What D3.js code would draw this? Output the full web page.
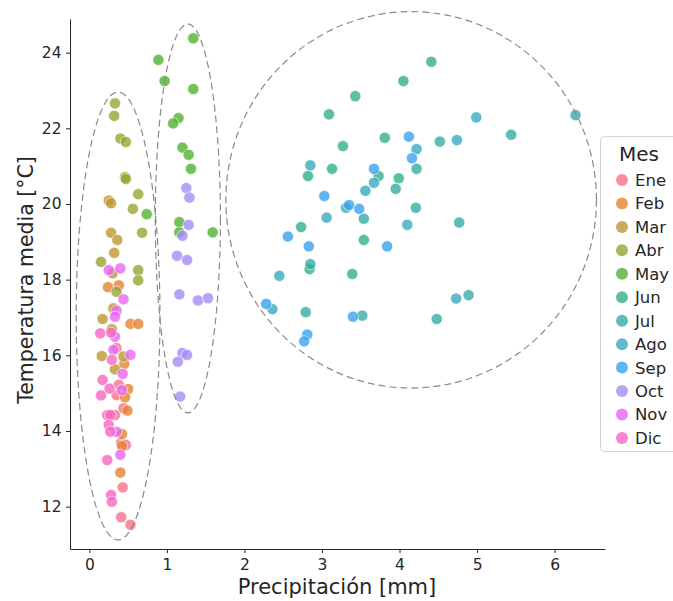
<!DOCTYPE html>
<html>
<head>
<meta charset="utf-8">
<script src="https://cdn.jsdelivr.net/npm/d3@7"></script>
<style>
  body { margin: 0; background: #fff; }
  svg text { font-family: "DejaVu Sans", sans-serif; fill: #262626; }
</style>
</head>
<body>
<svg id="plotSVG" width="673" height="601"></svg>
<script>
// [precipitación mm, temperatura media °C] por mes
let ene = [[0.35,16.19],[0.38,15.22],[0.35,14.95],[0.44,14.60],[0.33,14.42],[0.41,13.69],[0.47,13.63],[0.43,12.51],[0.41,11.72],[0.53,11.52]];
let feb = [[0.24,17.80],[0.38,17.85],[0.53,16.83],[0.63,16.83],[0.45,15.77],[0.50,15.11],[0.46,14.89],[0.49,14.54],[0.42,13.92],[0.42,13.60],[0.40,12.90]];
let mar = [[0.25,20.09],[0.28,20.02],[0.28,19.24],[0.36,19.05],[0.32,18.71],[0.30,18.17],[0.31,17.24],[0.17,16.96],[0.29,16.69],[0.16,15.98],[0.44,15.97],[0.33,15.63]];
let abr = [[0.33,22.66],[0.32,22.33],[0.40,21.73],[0.47,21.64],[0.46,20.71],[0.47,20.66],[0.63,20.26],[0.56,19.87],[0.68,19.24],[0.15,18.47],[0.63,18.25],[0.63,17.98],[0.35,17.68]];
let may = [[1.34,24.38],[0.89,23.81],[0.97,23.25],[1.34,23.04],[1.15,22.27],[1.08,22.13],[1.20,21.49],[1.28,21.30],[1.31,20.93],[0.74,19.73],[1.16,19.52],[1.16,19.25],[1.59,19.25]];
let jun = [[4.41,23.76],[4.05,23.25],[3.43,22.85],[3.09,22.37],[3.81,21.75],[3.27,21.53],[2.82,20.74],[3.13,20.93],[3.73,20.74],[3.99,20.68],[2.73,19.39],[3.54,19.05],[2.84,18.28],[3.39,18.15]];
let jul = [[6.27,22.35],[4.52,21.65],[5.44,21.83],[4.22,20.93],[3.95,20.40],[4.21,19.90],[3.54,19.61],[4.77,19.51],[2.85,18.41],[4.89,17.59],[2.79,17.14],[3.52,17.05],[4.48,16.96]];
let ago = [[4.99,22.29],[4.74,21.69],[4.22,21.45],[2.85,21.02],[3.67,20.56],[3.56,20.35],[3.31,19.90],[3.06,19.64],[4.10,19.45],[2.45,18.10],[4.73,17.50],[2.36,17.22]];
let sep = [[4.12,21.78],[4.16,21.21],[3.67,20.93],[3.03,20.21],[3.35,19.97],[3.48,19.87],[2.56,19.14],[2.83,18.88],[3.84,18.88],[2.28,17.36],[3.40,17.02],[2.81,16.55],[2.77,16.37]];
let oct = [[1.25,20.42],[1.29,20.17],[1.28,19.45],[1.20,19.16],[1.13,18.63],[1.26,18.52],[1.16,17.61],[1.40,17.45],[1.53,17.51],[1.20,16.06],[1.26,16.01],[1.14,15.83],[1.17,14.91]];
let nov = [[0.25,18.25],[0.40,18.30],[0.44,17.48],[0.35,17.18],[0.33,17.02],[0.33,16.49],[0.31,16.14],[0.53,16.01],[0.43,15.51],[0.42,15.08],[0.35,13.98],[0.40,13.37]];
let dic = [[0.14,16.58],[0.28,16.60],[0.29,15.88],[0.17,15.35],[0.26,15.12],[0.15,14.94],[0.23,14.42],[0.27,14.42],[0.25,14.16],[0.27,13.98],[0.23,13.23],[0.28,12.31],[0.29,12.13]];

let meses = ["Ene","Feb","Mar","Abr","May","Jun","Jul","Ago","Sep","Oct","Nov","Dic"];
let series = [ene, feb, mar, abr, may, jun, jul, ago, sep, oct, nov, dic];

let xTicks = [0, 1, 2, 3, 4, 5, 6];
let yTicks = [12, 14, 16, 18, 20, 22, 24];

// grupos marcados con elipses: centro (x, y), ancho, alto en unidades de datos
let grupoX = [0.37, 1.27, 4.15];
let grupoY = [17.04, 19.62, 20.11];
let grupoAncho = [1.08, 0.84, 4.78];
let grupoAlto = [11.84, 10.28, 9.95];

let colores = ["#f77189","#e68332","#bb9832","#97a431","#50b131","#34af8a",
               "#36ada4","#38aabf","#3ba3ec","#a48cf4","#e866f4","#f668c2"];

let svg = d3.select("#plotSVG");

let xScale = d3.scaleLinear()
  .domain([-0.25, 6.65])
  .range([70, 605]);

let yScale = d3.scaleLinear()
  .domain([10.88, 24.89])
  .range([549, 19]);

let colorScale = d3.scaleOrdinal()
  .domain(meses)
  .range(colores);

svg.append("g")
  .attr("id", "yAxis")
  .attr("transform", "translate(70,0)")
  .call(d3.axisLeft(yScale)
          .tickValues(yTicks)
          .tickFormat(d3.format("d"))
          .tickSize(4)
          .tickPadding(4.5)
          .tickSizeOuter(0)
       );

svg.append("g")
  .attr("id", "xAxis")
  .attr("transform", "translate(0,549)")
  .call(d3.axisBottom(xScale)
          .tickValues(xTicks)
          .tickFormat(d3.format("d"))
          .tickSize(4)
          .tickPadding(6)
          .tickSizeOuter(0)
       );

svg.selectAll("#xAxis text, #yAxis text")
  .style("font-size", "15.5px")
  .attr("fill", "#262626");
svg.selectAll("#xAxis path, #xAxis line, #yAxis path, #yAxis line")
  .attr("stroke", "#262626")
  .attr("stroke-width", 1);

svg.append("text")
  .attr("x", 337)
  .attr("y", 594)
  .attr("text-anchor", "middle")
  .style("font-size", "21px")
  .text("Precipitación [mm]");

svg.append("text")
  .attr("transform", "translate(33,280) rotate(-90)")
  .attr("text-anchor", "middle")
  .style("font-size", "20.5px")
  .text("Temperatura media [°C]");

// puntos
let puntos = [];
series.forEach((s, i) => s.forEach(p => puntos.push({ mes: meses[i], precip: p[0], temp: p[1] })));

svg.append("g")
  .selectAll(".punto")
  .data(puntos)
  .join("circle")
  .attr("class", "punto")
  .attr("cx", d => xScale(d.precip))
  .attr("cy", d => yScale(d.temp))
  .attr("r", 5.6)
  .attr("fill", d => colorScale(d.mes))
  .attr("fill-opacity", 0.8)
  .attr("stroke", "#fff")
  .attr("stroke-width", 0.6);

// elipses
svg.append("g")
  .selectAll(".grupo")
  .data(grupoX.map((x, i) => ({ x: x, y: grupoY[i], w: grupoAncho[i], h: grupoAlto[i] })))
  .join("ellipse")
  .attr("class", "grupo")
  .attr("cx", d => xScale(d.x))
  .attr("cy", d => yScale(d.y))
  .attr("rx", d => xScale(d.x + d.w / 2) - xScale(d.x))
  .attr("ry", d => yScale(d.y - d.h / 2) - yScale(d.y))
  .attr("fill", "none")
  .attr("stroke", "#8a8a8a")
  .attr("stroke-width", 1.2)
  .attr("stroke-dasharray", "7,4");

// leyenda
let legend = svg.append("g")
  .attr("transform", "translate(600.5,136.5)");

legend.append("rect")
  .attr("width", 90)
  .attr("height", 315)
  .attr("rx", 4)
  .attr("fill", "#fff")
  .attr("fill-opacity", 0.8)
  .attr("stroke", "#d3d3d3");

legend.append("text")
  .attr("x", 18.5)
  .attr("y", 24)
  .style("font-size", "20px")
  .text("Mes");

let items = legend.selectAll(".item")
  .data(meses)
  .join("g")
  .attr("class", "item")
  .attr("transform", (d, i) => "translate(0," + (43.5 + i * 23.45) + ")");

items.append("circle")
  .attr("cx", 21.5)
  .attr("r", 6)
  .attr("fill", d => colorScale(d))
  .attr("fill-opacity", 0.8);

items.append("text")
  .attr("x", 34.5)
  .attr("dy", "0.36em")
  .style("font-size", "16.5px")
  .text(d => d);
</script>
</body>
</html>
